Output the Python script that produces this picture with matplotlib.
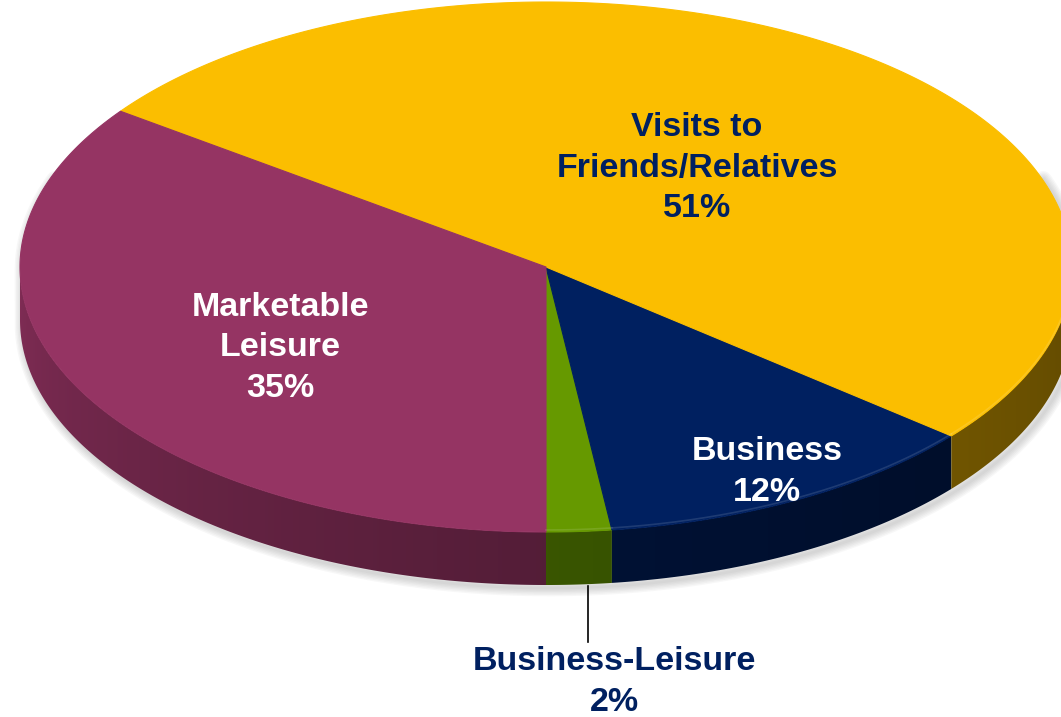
import numpy as np
import matplotlib.pyplot as plt
from matplotlib.patches import Polygon
from matplotlib.colors import to_rgb

# trip purpose shares
labels = ["Business-Leisure", "Business", "Visits to\nFriends/Relatives", "Marketable\nLeisure"]
shares = [2, 12, 51, 35]
top_colors = ["#669900", "#002060", "#FBBE00", "#953463"]
text_colors = ["#002060", "white", "#002060", "white"]

# pie geometry in pixels
cx, cy = 546, 267
rx, ry = 526, 265
depth = 53
start = 270.0


def pt(t, dy=0.0):
    t = np.radians(t)
    return cx + rx * np.cos(t), cy - ry * np.sin(t) + dy


def arc(a0, a1, dy=0.0, n=200):
    t = np.linspace(a0, a1, n)
    x, y = pt(t, dy)
    return np.column_stack([x, y])


def side_shade(t):
    # lighter on the left, darker toward the right
    t = np.mod(t, 360)
    return 0.4 + 0.46 * ((360 - t) / 180.0) ** 1.5


fig = plt.figure(figsize=(10.61, 7.17), dpi=100)
ax = fig.add_axes([0, 0, 1, 1])
ax.set_xlim(0, 1061)
ax.set_ylim(717, 0)
ax.axis("off")

# soft shadow below the rim
shadow = np.vstack([arc(160, 180), arc(180, 360, depth), arc(0, 20)])
for k in range(6, 0, -1):
    ax.plot(shadow[:, 0] + 3, shadow[:, 1] + 3, color="#808080",
            lw=2.0 * k, alpha=0.06, solid_capstyle="round", zorder=1)

angles = start + np.concatenate([[0], np.cumsum(shares)]) * 3.6

# side walls (front half only), shaded with a horizontal gradient
xs = np.arange(0, 1062)
u = np.clip((xs - cx) / rx, -1, 1)
t_front = 360 - np.degrees(np.arccos(u))
shade = side_shade(t_front)
for i, c in enumerate(top_colors):
    a0, a1 = angles[i], angles[i + 1]
    for n in range(-1, 3):
        s0 = max(a0, 180 + 360 * n)
        s1 = min(a1, 360 + 360 * n)
        if s1 <= s0:
            continue
        poly = np.vstack([arc(s0, s1), arc(s1, s0, depth)])
        patch = Polygon(poly, closed=True, facecolor="none", edgecolor="none")
        ax.add_patch(patch)
        img = np.array(to_rgb(c))[None, None, :] * shade[None, :, None]
        im = ax.imshow(np.clip(img, 0, 1), extent=(-0.5, 1061.5, 717, 0),
                       aspect="auto", interpolation="bilinear", zorder=2)
        im.set_clip_path(patch)

ax.set_xlim(0, 1061)
ax.set_ylim(717, 0)

# top faces
for i, c in enumerate(top_colors):
    a0, a1 = angles[i], angles[i + 1]
    poly = np.vstack([[cx, cy], arc(a0, a1)])
    ax.add_patch(Polygon(poly, closed=True, facecolor=c, edgecolor=c,
                         lw=0.8, zorder=3))
    # thin bevel highlight along the front rim
    s0, s1 = max(a0, 180), min(a1, 360)
    if s1 > s0:
        rim = arc(s0, s1, -2)
        ax.plot(rim[:, 0], rim[:, 1], color="white", lw=1.2, alpha=0.12, zorder=4)

# labels
font = dict(family=["Liberation Sans", "DejaVu Sans"], weight="bold",
            fontsize=24.5, ha="center", va="center", linespacing=1.38, zorder=6)
pos = [(614, 682), (767, 472), (697, 168), (280, 348)]
for lab, s, (x, y), tc in zip(labels, shares, pos, text_colors):
    ax.text(x, y, f"{lab}\n{s}%", color=tc, **font)

# leader line for the smallest slice
ax.plot([588, 588], [586, 642], color="black", lw=1.2, zorder=5)

fig.savefig("out.png", dpi=100)
